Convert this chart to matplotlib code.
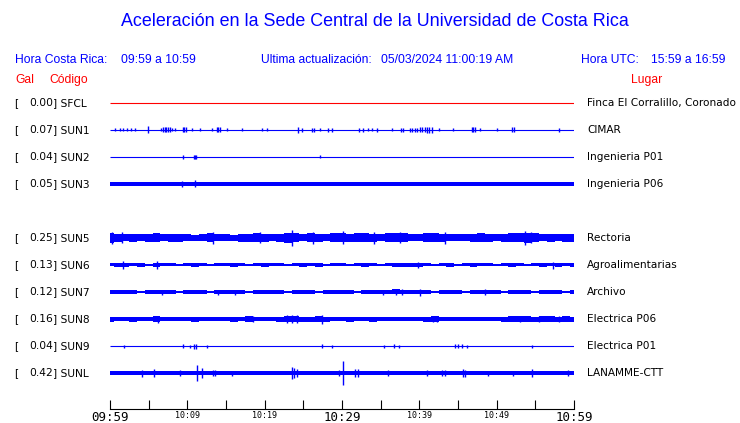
import numpy as np
import matplotlib
matplotlib.use("Agg")
import matplotlib.pyplot as plt

# ---------------- data ----------------
title = "Aceleración en la Sede Central de la Universidad de Costa Rica"
hora_cr = "09:59 a 10:59"
hora_utc = "15:59 a 16:59"
actualizacion = "05/03/2024 11:00:19 AM"

codes = ["SFCL", "SUN1", "SUN2", "SUN3", "SUN5", "SUN6", "SUN7", "SUN8", "SUN9", "SUNL"]
lugares = ["Finca El Corralillo, Coronado", "CIMAR", "Ingenieria P01", "Ingenieria P06",
           "Rectoria", "Agroalimentarias", "Archivo", "Electrica P06", "Electrica P01", "LANAMME-CTT"]
gal = [0.00, 0.07, 0.04, 0.05, 0.25, 0.13, 0.12, 0.16, 0.04, 0.42]
rows = [0, 1, 2, 3, 5, 6, 7, 8, 9, 10]

tick_minutes = [0, 5, 10, 15, 20, 25, 30, 35, 40, 45, 50, 55, 60]
tick_labels = ["09:59", "", "10:09", "", "10:19", "", "10:29", "", "10:39", "", "10:49", "", "10:59"]

minutes = np.arange(61)

# envelope half-heights (px) of each trace, one value per minute
base_half = {"SFCL": 0.5, "SUN1": 0.5, "SUN2": 0.5, "SUN3": 1.8, "SUN9": 0.5, "SUNL": 2.3}

env_sun5 = [5, 4, 3.5, 4, 3.5, 4, 4.5, 3.5, 4, 4,
            3.5, 3, 3.5, 4.5, 3.5, 3.5, 3, 4, 4, 4.5,
            4, 3.5, 4, 5, 4.5, 3.5, 4.5, 4, 3.5, 4.5,
            4.5, 4, 4.5, 4.5, 4, 3.5, 4.5, 4.5, 4.5, 3.5,
            3.5, 4.5, 4.5, 4, 3.5, 3.5, 3.5, 4, 4.5, 4,
            3.5, 4, 4.5, 4.5, 5, 4.5, 3.5, 4, 3.5, 4, 4]
env_sun6 = [1.5, 2, 2, 1.5, 2, 0.6, 2, 1.5, 1.5, 0.6,
            1.5, 2, 1.5, 0.6, 1.5, 1.5, 2, 1.5, 0.6, 1.5,
            2, 1.5, 1.5, 0.6, 1.5, 2, 1.5, 2, 0.6, 1.5,
            1.5, 0.6, 1.5, 2, 1.5, 0.6, 1.5, 2, 2, 2,
            2, 1.5, 0.6, 1.5, 2, 0.6, 1.5, 2, 1.5, 1.5,
            0.6, 1.5, 2, 1.5, 0.6, 1.5, 2, 1.5, 2, 1.5, 2]
env_sun7 = [2, 1.8, 1.8, 2, 1.2, 2, 1.8, 2.2, 1.8, 1.2,
            1.8, 2, 1.8, 1.2, 2.2, 1.8, 2, 1.8, 1.2, 1.8,
            2, 1.8, 1.8, 1.2, 2, 1.8, 2, 1.2, 1.8, 2,
            1.8, 1.8, 1.2, 1.8, 2, 2, 2.2, 2.5, 1.8, 1.8,
            2.2, 1.8, 1.2, 1.8, 2, 1.8, 1.2, 1.8, 2, 1.8,
            1.8, 1.2, 1.8, 2, 1.8, 1.2, 1.8, 2, 1.8, 1.2, 1.8]
env_sun8 = [2.5, 2, 2, 2.5, 2, 2, 2.8, 2, 2, 2.2,
            2, 2.5, 2, 2, 2.2, 2, 2.5, 2, 2.8, 2,
            2, 2.2, 2.5, 3, 3, 2.5, 2.5, 3, 2.5, 2.2,
            2, 2.5, 2.2, 2, 2.5, 2, 2, 2.2, 2, 2,
            2.2, 2.5, 2.8, 2.2, 2, 2.2, 2, 2.2, 2, 2,
            2.2, 2.5, 2.8, 3, 2.8, 2.5, 2.8, 3, 2.5, 2.8, 2.5]
envelopes = {"SUN5": env_sun5, "SUN6": env_sun6, "SUN7": env_sun7, "SUN8": env_sun8}

# spikes: minute after 09:59 and half-height (px)
spk_sun1_t = [0.65, 1.3, 1.7, 2.2, 2.7, 3.2, 4.9, 6.6, 6.9, 7.1, 7.3, 7.5, 7.7, 8.0, 8.4,
              9.4, 9.6, 9.8, 10.6, 11.6, 13.2, 13.8, 14.0, 14.2, 15.1, 17.1, 19.7, 20.3,
              24.3, 24.8, 26.1, 26.4, 27.2, 28.2, 28.7, 32.2, 32.7, 33.4, 33.9, 34.5,
              36.5, 37.6, 37.9, 38.8, 39.1, 39.4, 39.7, 40.1, 40.4, 40.7, 41.0, 41.3, 41.6,
              42.5, 44.4, 46.8, 47.0, 47.2, 47.8, 50.0, 52.0, 52.2, 58.1]
spk_sun1_a = [1.5, 1.5, 1.5, 1.5, 1.5, 1.5, 3.5, 1.5, 2.5, 2.5, 2.5, 2.5, 2.5, 1.5, 1.5,
              2.5, 2.5, 2.5, 1.5, 1.5, 1.5, 2.5, 2.5, 2.5, 1.5, 1.5, 1.5, 1.5,
              3, 2, 2, 2, 1.5, 2, 2, 2, 2, 1.5, 1.5, 2,
              1.5, 2, 2, 2, 2, 2, 2, 2.5, 2.5, 2.5, 3, 3, 3,
              1.5, 1.5, 2.5, 2.5, 2.5, 1.5, 1.5, 2.5, 2.5, 2]
spk_sun2_t = [9.4, 10.9, 11.0, 11.1, 27.2]
spk_sun2_a = [2, 2, 2, 2, 1.5]
spk_sun3_t = [9.3, 11.0]
spk_sun3_a = [3, 3.5]
spk_sun5_t = [0.3, 1.5, 13.3, 19.4, 23.5, 26.3, 30.1, 34.2, 37.5, 43.3, 53.7, 54.5]
spk_sun5_a = [6, 5.5, 6, 5.5, 8, 6, 6.5, 6, 5.5, 6, 7, 5.5]
spk_sun6_t = [1.7, 6.1, 39.8, 57.3]
spk_sun6_a = [4, 4, 3, 3.5]
spk_sun7_t = [6.7, 14.0, 16.2, 35.3, 37.0, 37.8, 40.1, 48.5]
spk_sun7_a = [2.5, 2.5, 2.5, 2.5, 3, 3, 3.5, 3]
spk_sun8_t = [6.2, 18.5, 22.9, 23.5, 24.2, 27.4, 41.8, 42.3, 53.0, 55.5, 58.0]
spk_sun8_a = [3.5, 3, 4, 4, 4, 4.5, 3, 3, 3, 3, 3]
spk_sun9_t = [1.8, 9.4, 10.3, 10.9, 11.1, 12.5, 27.4, 28.7, 35.4, 36.7, 37.4, 44.6, 45.0, 45.5, 46.2, 54.6]
spk_sun9_a = [1.5, 2, 1.5, 2.5, 2.5, 1.5, 2, 1.5, 1.5, 2, 1.5, 2, 2, 2, 1.5, 1.5]
spk_sunl_t = [4.1, 5.7, 9.1, 11.2, 11.9, 13.3, 13.6, 15.8, 23.5, 23.8, 24.2, 29.6, 30.1,
              31.7, 32.1, 35.9, 41.0, 42.9, 43.3, 45.6, 45.9, 48.9, 52.1, 54.6, 59.2]
spk_sunl_a = [3.5, 4, 3, 8, 5, 3, 3, 2.5, 6, 5, 4, 3, 12,
              4, 4, 3, 3, 3, 3, 4, 3.5, 2.5, 2.5, 4, 3]
spikes = {"SUN1": (spk_sun1_t, spk_sun1_a), "SUN2": (spk_sun2_t, spk_sun2_a),
          "SUN3": (spk_sun3_t, spk_sun3_a), "SUN5": (spk_sun5_t, spk_sun5_a),
          "SUN6": (spk_sun6_t, spk_sun6_a), "SUN7": (spk_sun7_t, spk_sun7_a),
          "SUN8": (spk_sun8_t, spk_sun8_a), "SUN9": (spk_sun9_t, spk_sun9_a),
          "SUNL": (spk_sunl_t, spk_sunl_a)}

# ---------------- figure ----------------
W, H = 740, 423
fig = plt.figure(figsize=(W / 100, H / 100), dpi=100)
BLUE = "#0000ff"
RED = "#ff0000"
ROW = 27  # px between traces


def fx(px):
    return px / W


def fy(py):
    return 1 - py / H


ax = fig.add_axes([fx(110), fy(409), fx(574) - fx(110), fy(90) - fy(409)])
ax.set_xlim(0, 60)
ax.set_ylim(409 - 103, 90 - 103)  # px below first trace
for s in ["top", "left", "right"]:
    ax.spines[s].set_visible(False)
ax.spines["bottom"].set_linewidth(0.8)
ax.set_yticks([])
ax.set_xticks(tick_minutes)
ax.set_xticklabels(tick_labels)
ax.tick_params(axis="x", direction="in", length=6.5, width=0.8, pad=1.2)
for lab, txt in zip(ax.get_xticklabels(), tick_labels):
    big = txt in ("09:59", "10:29", "10:59")
    lab.set_fontfamily("DejaVu Sans Mono")
    lab.set_fontsize(9.0 if big else 6.0)
    lab.set_verticalalignment("top")

for code, row in zip(codes, rows):
    y0 = row * ROW
    col = RED if code == "SFCL" else BLUE
    if code in envelopes:
        env = np.array(envelopes[code])
        ax.fill_between(minutes, y0 - env, y0 + env, step="mid", color=col, lw=0)
        ax.fill_between([0, 0.5], y0 - env[0], y0 + env[0], color=col, lw=0)
    else:
        hh = base_half[code]
        if hh <= 0.5:
            ax.plot([0, 60], [y0, y0], color=col, lw=0.8, solid_capstyle="butt")
        else:
            ax.fill_between([0, 60], y0 - hh, y0 + hh, color=col, lw=0)
    if code in spikes:
        t, a = spikes[code]
        a = np.array(a)
        ax.vlines(t, y0 - a, y0 + a, color=col, lw=1.0)

# ---------------- texts ----------------
tfont = ["Liberation Sans", "DejaVu Sans"]
fig.text(fx(375), fy(22), title, color=BLUE, fontsize=12.9, family=tfont, ha="center", va="center")
fig.text(fx(15), fy(60), "Hora Costa Rica:", color=BLUE, fontsize=8.7, family=tfont, va="center")
fig.text(fx(121), fy(60), hora_cr, color=BLUE, fontsize=8.7, family=tfont, va="center")
fig.text(fx(261), fy(60), "Ultima actualización:", color=BLUE, fontsize=8.7, family=tfont, va="center")
fig.text(fx(381), fy(60), actualizacion, color=BLUE, fontsize=8.7, family=tfont, va="center")
fig.text(fx(581), fy(60), "Hora UTC:", color=BLUE, fontsize=8.7, family=tfont, va="center")
fig.text(fx(651), fy(60), hora_utc, color=BLUE, fontsize=8.7, family=tfont, va="center")
fig.text(fx(15), fy(80), "Gal", color=RED, fontsize=8.7, family=tfont, va="center")
fig.text(fx(49), fy(80), "Código", color=RED, fontsize=8.7, family=tfont, va="center")
fig.text(fx(631), fy(80), "Lugar", color=RED, fontsize=8.7, family=tfont, va="center")

lfont = "DejaVu Sans"
for code, row, g, lug in zip(codes, rows, gal, lugares):
    ypx = 103 + row * ROW
    fig.text(fx(14), fy(ypx), "[", fontsize=7.7, family=lfont, va="center")
    fig.text(fx(53), fy(ypx), f"{g:.2f}", fontsize=7.7, family=lfont, va="center", ha="right")
    fig.text(fx(53), fy(ypx), f"] {code}", fontsize=7.7, family=lfont, va="center")
    fig.text(fx(587), fy(ypx), lug, fontsize=7.6, family=lfont, va="center")

fig.savefig("out.png", dpi=100)
